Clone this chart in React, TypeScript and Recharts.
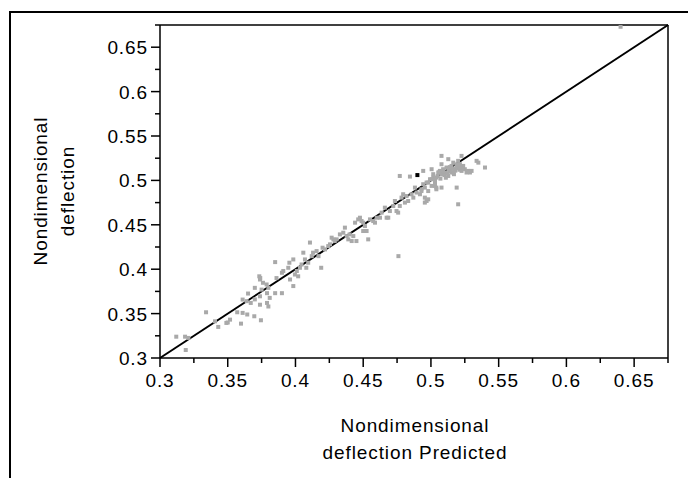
import React from 'react'
import { ScatterChart, Scatter, XAxis, YAxis, ReferenceLine } from 'recharts';

const predicted = [
  0.312, 0.3185, 0.321, 0.319, 0.334, 0.3406, 0.343, 0.349, 0.3517, 0.35,
  0.3598, 0.357, 0.361, 0.3644, 0.3696, 0.3745, 0.361, 0.364, 0.367, 0.365,
  0.37, 0.3738, 0.3738, 0.375, 0.376, 0.3738, 0.3733, 0.3787, 0.38, 0.379,
  0.38, 0.37, 0.374, 0.379, 0.381, 0.385, 0.39, 0.385, 0.386, 0.39,
  0.391, 0.3947, 0.3955, 0.3984, 0.396, 0.3984, 0.3996, 0.401, 0.402, 0.4033,
  0.4045, 0.4058, 0.407, 0.408, 0.4094, 0.4107, 0.412, 0.413, 0.4156, 0.417,
  0.419, 0.42, 0.4218, 0.4242, 0.4255, 0.4267, 0.429, 0.4304, 0.4328, 0.4353,
  0.4365, 0.4378, 0.439, 0.428, 0.44, 0.4415, 0.4427, 0.444, 0.445, 0.4463,
  0.4476, 0.4488, 0.45, 0.45, 0.4513, 0.4525, 0.4537, 0.455, 0.4574, 0.4587,
  0.46, 0.4624, 0.4636, 0.466, 0.4673, 0.4685, 0.4697, 0.4722, 0.4734, 0.4746,
  0.4758, 0.477, 0.477, 0.4783, 0.4795, 0.4808, 0.482, 0.4832, 0.4845, 0.4857,
  0.487, 0.4882, 0.4894, 0.4919, 0.493, 0.4943, 0.4955, 0.4955, 0.4968, 0.498,
  0.4993, 0.5005, 0.5017, 0.503, 0.504, 0.476, 0.4943, 0.493, 0.4955, 0.4968,
  0.498, 0.498, 0.5005, 0.5005, 0.5017, 0.503, 0.504, 0.504, 0.5054, 0.5066,
  0.5078, 0.5078, 0.5078, 0.509, 0.5103, 0.5115, 0.5128, 0.5128, 0.514, 0.5152,
  0.5165, 0.5165, 0.5177, 0.519, 0.519, 0.5201, 0.5201, 0.5214, 0.5226, 0.5226,
  0.5238, 0.525, 0.5263, 0.5275, 0.5288, 0.53, 0.5337, 0.535, 0.5399, 0.505,
  0.508, 0.51, 0.512, 0.513, 0.515, 0.516, 0.518, 0.52, 0.521, 0.522,
  0.517, 0.511, 0.507, 0.503, 0.509, 0.514, 0.519, 0.523, 0.506, 0.64
];
const observed = [
  0.324, 0.324, 0.3226, 0.309, 0.3515, 0.3413, 0.335, 0.3395, 0.3432, 0.34,
  0.3387, 0.3515, 0.3508, 0.349, 0.347, 0.3425, 0.3658, 0.364, 0.362, 0.3726,
  0.366, 0.3695, 0.36, 0.377, 0.3847, 0.3884, 0.392, 0.3828, 0.379, 0.362,
  0.358, 0.379, 0.39, 0.373, 0.3677, 0.373, 0.373, 0.408, 0.39, 0.396,
  0.398, 0.4016, 0.4073, 0.411, 0.3884, 0.381, 0.394, 0.398, 0.392, 0.4016,
  0.4053, 0.4186, 0.411, 0.4016, 0.4073, 0.43, 0.4147, 0.4186, 0.4204, 0.4147,
  0.4016, 0.4242, 0.4223, 0.426, 0.428, 0.4355, 0.4317, 0.4336, 0.4392, 0.4411,
  0.4468, 0.4373, 0.4336, 0.4336, 0.4392, 0.4317, 0.4373, 0.4524, 0.4317, 0.4561,
  0.458, 0.4542, 0.4524, 0.443, 0.4486, 0.443, 0.4336, 0.4561, 0.4542, 0.4524,
  0.458, 0.458, 0.4637, 0.4693, 0.458, 0.458, 0.4655, 0.4712, 0.4768, 0.4655,
  0.4637, 0.4712, 0.505, 0.4806, 0.4844, 0.475, 0.4824, 0.4768, 0.5043, 0.4844,
  0.4806, 0.4919, 0.4863, 0.4844, 0.49, 0.4957, 0.4919, 0.475, 0.4976, 0.4787,
  0.5013, 0.4938, 0.5032, 0.4976, 0.4919, 0.4147, 0.5107, 0.488, 0.4806, 0.4768,
  0.488, 0.4976, 0.5126, 0.5013, 0.507, 0.4938, 0.49, 0.5032, 0.5089, 0.5107,
  0.5276, 0.4919, 0.5182, 0.5126, 0.5089, 0.5145, 0.5239, 0.505, 0.5107, 0.5163,
  0.52, 0.5089, 0.5126, 0.4919, 0.5163, 0.4731, 0.522, 0.5182, 0.5276, 0.5107,
  0.5163, 0.5126, 0.5089, 0.5107, 0.5089, 0.5107, 0.522, 0.52, 0.5145, 0.505,
  0.507, 0.506, 0.508, 0.512, 0.509, 0.513, 0.511, 0.514, 0.512, 0.515,
  0.507, 0.503, 0.502, 0.5, 0.51, 0.515, 0.518, 0.513, 0.509, 0.673
];
// the one highlighted (black) row
const highlightX = [0.49];
const highlightY = [0.506];

const majorTicks = [0.3, 0.35, 0.4, 0.45, 0.5, 0.55, 0.6, 0.65];
const tickLabels = ['0.3', '0.35', '0.4', '0.45', '0.5', '0.55', '0.6', '0.65'];
const minorTicks = [0.325, 0.375, 0.425, 0.475, 0.525, 0.575, 0.625, 0.675];

const points = predicted.map((x, i) => ({ x, y: observed[i] }));
const highlight = highlightX.map((x, i) => ({ x, y: highlightY[i] }));
const allTicks = [...majorTicks, ...minorTicks].sort((a, b) => a - b);

const FONT = '"Liberation Sans", Arial, sans-serif';
const textStyle = { fontFamily: FONT, fontSize: 19, letterSpacing: 0.9, fill: '#000' };

const labelFor = (v: number) => {
  const i = majorTicks.findIndex(t => Math.abs(t - v) < 1e-6);
  return i >= 0 ? tickLabels[i] : null;
};

const XTick = (props: any) => {
  const { x, y, payload } = props;
  const label = labelFor(payload.value);
  return (
    <g>
      <line x1={x} y1={y} x2={x} y2={y + (label ? 9 : 5)} stroke="#000" strokeWidth={1.5} />
      {label && <text x={x} y={y + 29} textAnchor="middle" style={textStyle}>{label}</text>}
    </g>
  );
};

const YTick = (props: any) => {
  const { x, y, payload } = props;
  const label = labelFor(payload.value);
  return (
    <g>
      <line x1={x} y1={y} x2={x - (label ? 9 : 5)} y2={y} stroke="#000" strokeWidth={1.5} />
      {label && <text x={x - 12} y={y + 7} textAnchor="end" style={textStyle}>{label}</text>}
    </g>
  );
};

const square = (color: string) => (props: any) => (
  <rect x={props.cx - 2} y={props.cy - 2} width={4} height={4} fill={color} />
);

export default function App() {
  return (
    <div style={{ position: 'absolute', left: 0, top: 0, width: 688, height: 478, overflow: 'hidden', background: '#fff' }}>
      <div style={{ position: 'absolute', left: 9, top: 11, width: 720, height: 520, borderTop: '2px solid #000', borderLeft: '2px solid #000' }} />
      <div style={{ position: 'absolute', left: 0, top: 0 }}>
        <ScatterChart width={688} height={478} margin={{ top: 25, right: 20, left: 0, bottom: 80 }}>
          <XAxis type="number" dataKey="x" domain={[0.3, 0.675]} ticks={allTicks} interval={0}
            allowDataOverflow tickSize={0} tickMargin={0} tickLine={false} height={40}
            axisLine={{ stroke: '#000', strokeWidth: 1.5 }} tick={<XTick />}
            label={({ viewBox }: any) => null} />
          <YAxis type="number" dataKey="y" domain={[0.3, 0.675]} ticks={allTicks} interval={0}
            allowDataOverflow tickSize={0} tickMargin={0} tickLine={false} width={160}
            axisLine={{ stroke: '#000', strokeWidth: 1.5 }} tick={<YTick />} />
          <ReferenceLine y={0.675} stroke="#000" strokeWidth={1.5} />
          <ReferenceLine x={0.675} stroke="#000" strokeWidth={1.5} />
          <Scatter data={points} shape={square('#a9a9a9')} isAnimationActive={false} />
          <Scatter data={highlight} shape={square('#000')} isAnimationActive={false} />
          <ReferenceLine segment={[{ x: 0.3, y: 0.3 }, { x: 0.675, y: 0.675 }]} stroke="#000" strokeWidth={2} />
        </ScatterChart>
      </div>
      <svg style={{ position: 'absolute', left: 0, top: 0 }} width={688} height={478}>
        <text x={415} y={432} textAnchor="middle" style={textStyle}>Nondimensional</text>
        <text x={415} y={459} textAnchor="middle" style={textStyle}>deflection Predicted</text>
        <g transform="translate(47,191) rotate(-90)">
          <text x={0} y={0} textAnchor="middle" style={textStyle}>Nondimensional</text>
          <text x={0} y={27} textAnchor="middle" style={textStyle}>deflection</text>
        </g>
      </svg>
    </div>
  );
}
